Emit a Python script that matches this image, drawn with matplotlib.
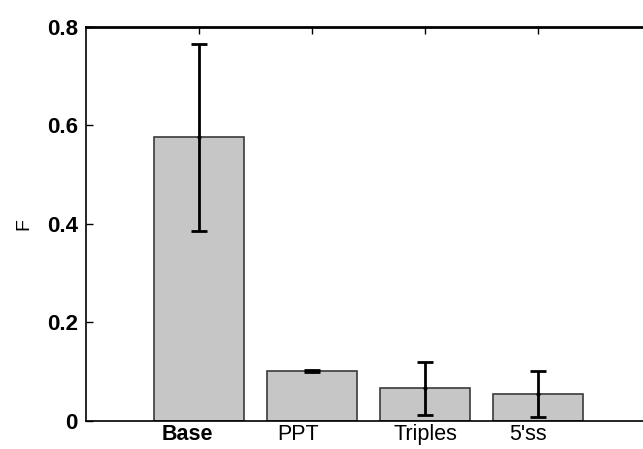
import matplotlib
matplotlib.use("Agg")
import matplotlib.pyplot as plt
import matplotlib.transforms as mtransforms

plt.rcParams['font.family'] = ['Liberation Sans', 'DejaVu Sans']

categories = ['Base', 'PPT', 'Triples', "5'ss"]
means = [0.576, 0.1015, 0.066, 0.0555]
errors = [0.19, 0.002, 0.053, 0.047]
label_x = [0.9, 1.88, 3.0, 3.91]
label_weight = ['bold', 'normal', 'normal', 'normal']

fig = plt.figure(figsize=(6.43, 4.49), dpi=100)
ax = fig.add_axes([0.1337, 0.0624, 0.8787, 0.8775])

x = list(range(1, len(categories) + 1))
ax.bar(x, means, width=0.8, color='#c6c6c6', edgecolor='#3a3a3a', linewidth=1.2, zorder=2)
ax.errorbar(x, means, yerr=errors, fmt='.', color='black', markersize=4,
            elinewidth=2, capsize=6, capthick=2, zorder=3)

ax.set_xlim(0, 5)
ax.set_ylim(0, 0.8)
ax.set_yticks([0, 0.2, 0.4, 0.6, 0.8])
ax.set_yticklabels(['0', '0.2', '0.4', '0.6', '0.8'], fontsize=16, fontweight='bold')
ax.set_xticks(x)
ax.set_xticklabels([])
ax.tick_params(axis='y', direction='in', length=5, width=1, pad=6)
ax.tick_params(axis='x', direction='in', length=5, width=1, bottom=False, top=True)

for sp in ax.spines.values():
    sp.set_linewidth(1.2)
ax.spines['top'].set_linewidth(2)

# labels sit just under the axis, as close to the edge as in the original
trans = mtransforms.blended_transform_factory(ax.transData, ax.transAxes)
for xi, lab, w in zip(label_x, categories, label_weight):
    ax.text(xi, -0.008, lab, transform=trans, ha='center', va='top',
            fontsize=15.5, fontweight=w, clip_on=False)

ax.set_ylabel('F', fontsize=14, labelpad=10)

fig.savefig('out.png', dpi=100)
